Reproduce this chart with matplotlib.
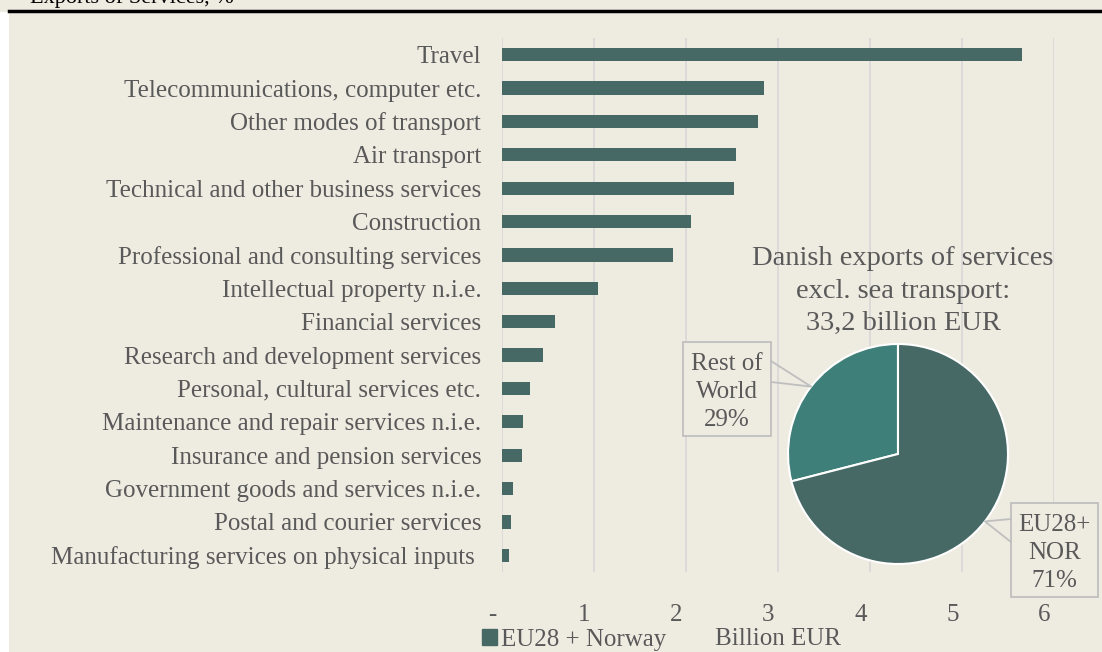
import numpy as np
import matplotlib
matplotlib.use("Agg")
import matplotlib.pyplot as plt
from matplotlib.patches import Patch, Rectangle
from matplotlib.lines import Line2D

# bar data (billion EUR), top to bottom
categories = ["Travel", "Telecommunications, computer etc.", "Other modes of transport",
              "Air transport", "Technical and other business services", "Construction",
              "Professional and consulting services", "Intellectual property n.i.e.",
              "Financial services", "Research and development services",
              "Personal, cultural services etc.", "Maintenance and repair services n.i.e.",
              "Insurance and pension services", "Government goods and services n.i.e.",
              "Postal and courier services", "Manufacturing services on physical inputs "]
eu_nor = [5.65, 2.85, 2.78, 2.54, 2.52, 2.05, 1.86, 1.04, 0.58, 0.45,
          0.30, 0.23, 0.22, 0.12, 0.10, 0.08]
xticks = [0, 1, 2, 3, 4, 5, 6]

# pie data
pie_labels = ["Rest of\nWorld", "EU28+\nNOR"]
pie_shares = [0.29, 0.71]
pie_title = "Danish exports of services\nexcl. sea transport:\n33,2 billion EUR"

BG = "#EEEBE1"
BAR = "#466966"
ROW = "#3F7F79"
GREY = "#595959"
FONT = "Liberation Serif"
FS = 18

W, H = 1102, 652
fig = plt.figure(figsize=(W / 100, H / 100), dpi=100, facecolor=BG)

def fx(px):
    return px / W

def fy(py):
    return 1 - py / H

# white strip on the left and the black rule at the top
fig.patches.append(Rectangle((0, 0), fx(9), fy(12), transform=fig.transFigure,
                             facecolor="white", edgecolor="none", zorder=0))
fig.add_artist(Line2D([fx(9), 1], [fy(11), fy(11)], transform=fig.transFigure,
                      color="black", lw=2.5))
fig.text(fx(30), fy(3), "Exports of Services, %", family=FONT, fontsize=16,
         color="black", va="baseline")

# bar chart
ax = fig.add_axes([fx(502), fy(572), fx(1054) - fx(502), fy(38) - fy(572)])
ax.set_facecolor("none")
y = np.arange(len(categories))
ax.barh(y, eu_nor, height=0.4, color=BAR, zorder=3, label="EU28 + Norway")
ax.set_ylim(len(categories) - 0.5, -0.5)
ax.set_yticks(y)
ax.set_yticklabels(categories, family=FONT, fontsize=FS, color=GREY)
ax.set_xlim(0, 6)
ax.set_xticks(xticks)
ax.set_xticklabels([])
# Excel puts the value labels a little left of the gridlines
for v in xticks:
    ax.annotate("-" if v == 0 else str(v), xy=(v, 0), xycoords=("data", "axes fraction"),
                xytext=(-7, -23), textcoords="offset points", ha="center", va="top",
                family=FONT, fontsize=FS, color=GREY)
ax.tick_params(axis="both", length=0)
ax.tick_params(axis="y", pad=15)
ax.grid(axis="x", color="#D9D9D9", lw=1.3, zorder=0)
for s in ax.spines.values():
    s.set_visible(False)
ax.set_xlabel("Billion EUR", family=FONT, fontsize=FS, color=GREY, labelpad=37)

ax.legend(handles=[Patch(color=BAR, label="EU28 + Norway")], loc="lower left",
          bbox_to_anchor=(fx(482), fy(651)), bbox_transform=fig.transFigure,
          frameon=False, prop={"family": FONT, "size": FS}, labelcolor=GREY,
          handlelength=0.6, handleheight=0.6, handletextpad=0.15, borderpad=0,
          borderaxespad=0)

# pie chart
cx, cy, r = 898, 454, 110
pax = fig.add_axes([fx(cx - r), fy(cy + r), fx(2 * r), fy(cy - r) - fy(cy + r)])
wedges, _ = pax.pie(pie_shares, colors=[ROW, BAR], startangle=90, counterclock=True,
                    wedgeprops={"edgecolor": "white", "linewidth": 1.5})
pax.set_xlim(-1, 1)
pax.set_ylim(-1, 1)
pax.set_aspect("auto")

fig.text(fx(903), fy(291), pie_title, family=FONT, fontsize=20.5, color=GREY,
         ha="center", va="center", linespacing=1.38)

# callout boxes with pointers
boxes = [(683, 342, 771, 436, "right", 361, 382),
         (1011, 503, 1098, 597, "left", 519, 542)]
for w, lab, share, (x0, y0, x1, y1, side, p0, p1) in zip(wedges, pie_labels, pie_shares, boxes):
    ang = np.deg2rad((w.theta1 + w.theta2) / 2)
    tx, ty = pax.transData.transform((np.cos(ang), np.sin(ang)))
    tip = fig.transFigure.inverted().transform((tx, ty))
    fig.patches.append(Rectangle((fx(x0), fy(y1)), fx(x1 - x0), fy(y0) - fy(y1),
                                 transform=fig.transFigure, facecolor=BG,
                                 edgecolor="#BFBFBF", lw=1.3, zorder=5))
    ex = x1 if side == "right" else x0
    fig.add_artist(Line2D([fx(ex), tip[0], fx(ex)], [fy(p0), tip[1], fy(p1)],
                          transform=fig.transFigure, color="#BFBFBF", lw=1.3, zorder=6))
    fig.text(fx((x0 + x1) / 2), fy((y0 + y1) / 2 + 3), f"{lab}\n{share:.0%}", family=FONT,
             fontsize=FS, color=GREY, ha="center", va="center", linespacing=1.33, zorder=7)

fig.savefig("out.png", dpi=100, facecolor=BG)
